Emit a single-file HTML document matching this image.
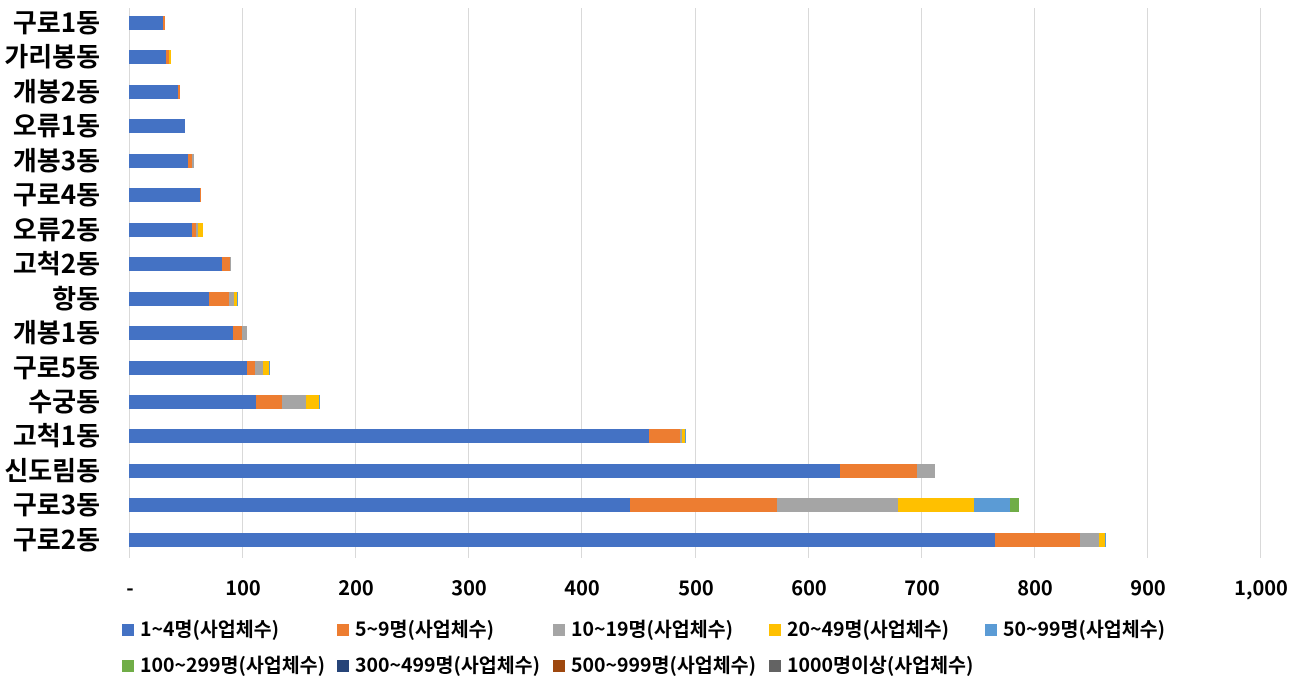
<!DOCTYPE html>
<html><head><meta charset="utf-8"><style>
body{margin:0;width:1308px;height:688px;background:#fff;position:relative;overflow:hidden;font-family:"Noto Sans CJK KR","Liberation Sans",sans-serif;font-weight:bold;color:#000}
.g{position:absolute;top:8px;height:550px;width:1px;background:#d9d9d9}
.lab{position:absolute;right:1208px;font-size:26px;line-height:32px;white-space:nowrap}
.s{position:absolute;height:14px}
.t{position:absolute;top:573px;font-size:20px;line-height:28px;width:80px;text-align:center;margin-left:-40px}
.lg{position:absolute;font-size:19.5px;white-space:nowrap;line-height:24px}
.lg i{display:inline-block;width:12px;height:12px;margin-right:6px;vertical-align:0px}
</style></head><body>
<div id="c"></div>
<script>
var c=document.getElementById('c'),h='';
var x0=129;
for(var i=0;i<=10;i++){var x=Math.round(x0+i*113.1);h+='<div class="g" style="left:'+x+'px"></div>';h+='<div class="t" style="left:'+(x+1)+'px">'+(i==0?'-':i==10?'1,000':i*100)+'</div>';}
var cols=['#4472c4','#ed7d31','#a5a5a5','#ffc000','#5b9bd5','#70ad47','#264478','#9e480e','#636363'];
var rows=[
['구로1동',[163,165]],
['가리봉동',[166,169,169,171]],
['개봉2동',[178,180]],
['오류1동',[185]],
['개봉3동',[188,192,194]],
['구로4동',[200,201]],
['오류2동',[192,196,198,203]],
['고척2동',[222,230,231]],
['항동',[209,229,234,237,238]],
['개봉1동',[233,242,247]],
['구로5동',[247,255,263,269,270]],
['수궁동',[256,282,306,319,320]],
['고척1동',[649,680,682,685,686]],
['신도림동',[840,917,935]],
['구로3동',[630,777,898,974,1010,1019]],
['구로2동',[995,1080,1099,1105,1106,1106]]];
rows.forEach(function(r,i){var cy=23+i*34.45;h+='<div class="lab" style="top:'+(cy-17)+'px">'+r[0]+'</div>';var p=x0;r[1].forEach(function(e,j){if(e>p)h+='<div class="s" style="top:'+Math.round(cy-7)+'px;left:'+p+'px;width:'+(e-p)+'px;background:'+cols[j]+'"></div>';p=Math.max(p,e);});});
var L=[['1~4명(사업체수)',122,616,0],['5~9명(사업체수)',337,616,1],['10~19명(사업체수)',553,616,2],['20~49명(사업체수)',769,616,3],['50~99명(사업체수)',985,616,4],
['100~299명(사업체수)',122,652,5],['300~499명(사업체수)',337,652,6],['500~999명(사업체수)',553,652,7],['1000명이상(사업체수)',769,652,8]];
L.forEach(function(l){h+='<div class="lg" style="left:'+l[1]+'px;top:'+l[2]+'px"><i style="background:'+cols[l[3]]+'"></i>'+l[0]+'</div>';});
c.innerHTML=h;
</script>
</body></html>
